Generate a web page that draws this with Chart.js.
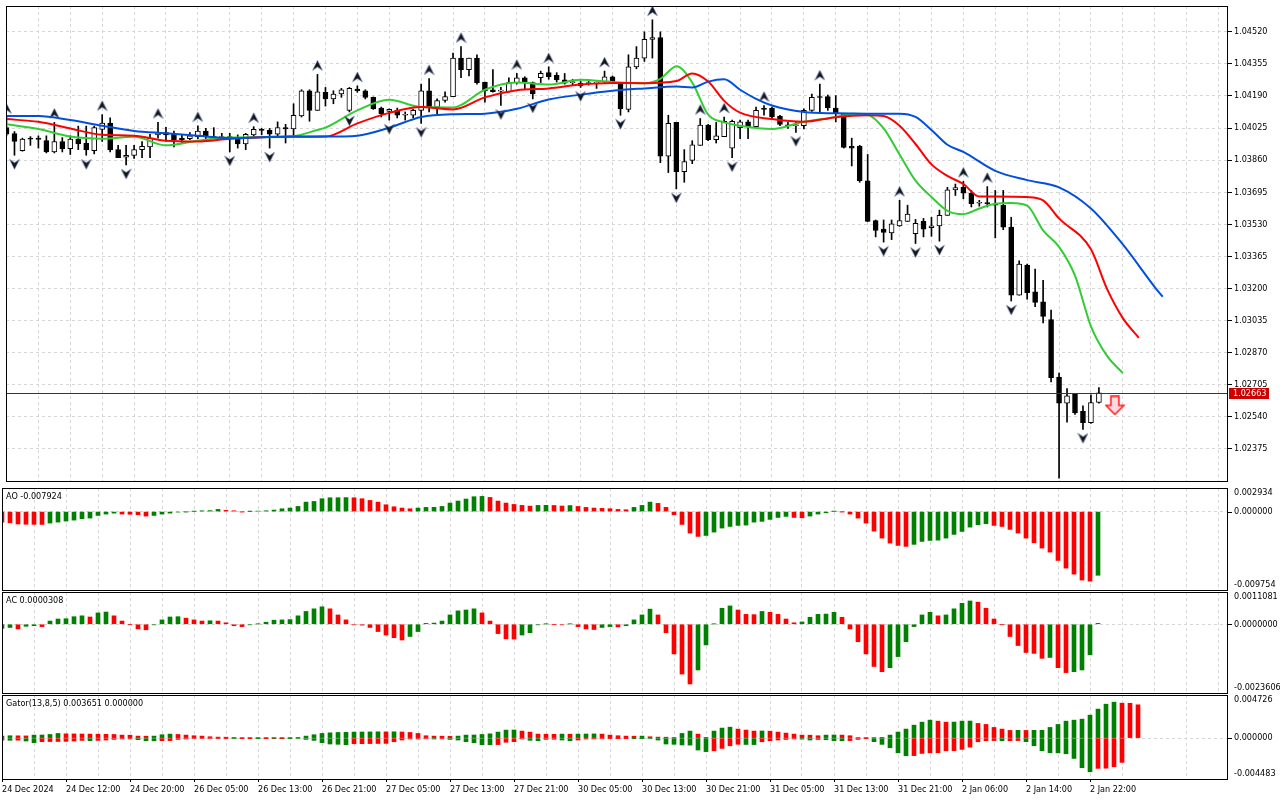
<!DOCTYPE html>
<html>
<head>
<meta charset="utf-8">
<script src="https://cdn.jsdelivr.net/npm/chart.js@4.4.1/dist/chart.umd.min.js"></script>
<style>
  html, body { margin: 0; padding: 0; background: #fff; }
  #wrap { position: relative; width: 1280px; height: 800px; overflow: hidden; }
  #wrap canvas { position: absolute; left: 0; }
</style>
</head>
<body>
<div id="wrap">
  <canvas id="main" width="1280" height="487" style="top:0"></canvas>
  <canvas id="ao" width="1280" height="104" style="top:487px"></canvas>
  <canvas id="ac" width="1280" height="103" style="top:591px"></canvas>
  <canvas id="gator" width="1280" height="106" style="top:694px"></canvas>
</div>
<script>
// EURUSD H1, 24 Dec 2024 - 2 Jan 2025
const timeLabels = ['24 Dec 2024', '24 Dec 12:00', '24 Dec 20:00', '26 Dec 05:00', '26 Dec 13:00', '26 Dec 21:00',
  '27 Dec 05:00', '27 Dec 13:00', '27 Dec 21:00', '30 Dec 05:00', '30 Dec 13:00', '30 Dec 21:00',
  '31 Dec 05:00', '31 Dec 13:00', '31 Dec 21:00', '2 Jan 06:00', '2 Jan 14:00', '2 Jan 22:00'];

const opens = [
  1.04027, 1.03997, 1.03909, 1.03973, 1.03973, 1.03960, 1.03902, 1.03956, 1.03919, 1.03968,
  1.03946, 1.03909, 1.04018, 1.04050, 1.03914, 1.03875, 1.03884, 1.03914, 1.03928, 1.03990,
  1.04002, 1.03993, 1.03973, 1.03970, 1.03981, 1.04010, 1.03981, 1.03976, 1.03977, 1.03968,
  1.03944, 1.03990, 1.04018, 1.04013, 1.03993, 1.04027, 1.04020, 1.04087, 1.04217, 1.04116,
  1.04209, 1.04175, 1.04200, 1.04116, 1.04225, 1.04217, 1.04183, 1.04128, 1.04111, 1.04116,
  1.04091, 1.04091, 1.04116, 1.04217, 1.04133, 1.04167, 1.04187, 1.04385, 1.04326, 1.04385,
  1.04262, 1.04222, 1.04215, 1.04212, 1.04259, 1.04284, 1.04259, 1.04284, 1.04310, 1.04296,
  1.04273, 1.04259, 1.04256, 1.04254, 1.04256, 1.04262, 1.04289, 1.04256, 1.04121, 1.04340,
  1.04385, 1.04481, 1.04491, 1.03880, 1.04054, 1.03801, 1.03859, 1.03936, 1.04040, 1.03965,
  1.03981, 1.03922, 1.04027, 1.04057, 1.04032, 1.04121, 1.04128, 1.04087, 1.04040, 1.04037,
  1.04037, 1.04116, 1.04183, 1.04187, 1.04128, 1.04099, 1.03931, 1.03931, 1.03754, 1.03549,
  1.03505, 1.03485, 1.03522, 1.03544, 1.03481, 1.03545, 1.03512, 1.03522, 1.03576, 1.03707,
  1.03720, 1.03690, 1.03638, 1.03640, 1.03630, 1.03628, 1.03515, 1.03165, 1.03320, 1.03182,
  1.03131, 1.03039, 1.02744, 1.02610, 1.02655, 1.02568, 1.02509, 1.02613];
const highs = [
  1.04080, 1.04007, 1.03973, 1.03981, 1.03985, 1.03985, 1.04054, 1.03976, 1.03985, 1.04035,
  1.04035, 1.04035, 1.04094, 1.04077, 1.03936, 1.03936, 1.03936, 1.03956, 1.03993, 1.04054,
  1.04029, 1.04010, 1.03993, 1.04002, 1.04037, 1.04023, 1.04027, 1.03998, 1.03998, 1.03990,
  1.03998, 1.04032, 1.04023, 1.04023, 1.04057, 1.04044, 1.04150, 1.04222, 1.04222, 1.04301,
  1.04234, 1.04217, 1.04229, 1.04234, 1.04242, 1.04222, 1.04185, 1.04133, 1.04124, 1.04128,
  1.04108, 1.04121, 1.04251, 1.04279, 1.04175, 1.04212, 1.04411, 1.04444, 1.04385, 1.04402,
  1.04262, 1.04326, 1.04234, 1.04284, 1.04306, 1.04289, 1.04262, 1.04318, 1.04340, 1.04310,
  1.04306, 1.04276, 1.04267, 1.04267, 1.04262, 1.04318, 1.04293, 1.04256, 1.04402, 1.04444,
  1.04520, 1.04582, 1.04520, 1.04091, 1.04054, 1.03914, 1.03960, 1.04074, 1.04044, 1.04054,
  1.04082, 1.04066, 1.04066, 1.04066, 1.04133, 1.04141, 1.04133, 1.04091, 1.04054, 1.04057,
  1.04124, 1.04200, 1.04251, 1.04195, 1.04192, 1.04099, 1.03973, 1.03936, 1.03889, 1.03552,
  1.03552, 1.03552, 1.03653, 1.03628, 1.03555, 1.03560, 1.03566, 1.03603, 1.03720, 1.03737,
  1.03751, 1.03704, 1.03653, 1.03724, 1.03704, 1.03704, 1.03566, 1.03342, 1.03325, 1.03300,
  1.03241, 1.03089, 1.02764, 1.02685, 1.02660, 1.02596, 1.02652, 1.02690];
const lows = [
  1.03985, 1.03885, 1.03906, 1.03936, 1.03922, 1.03897, 1.03897, 1.03902, 1.03889, 1.03914,
  1.03885, 1.03892, 1.03956, 1.03902, 1.03872, 1.03835, 1.03869, 1.03872, 1.03872, 1.03973,
  1.03956, 1.03928, 1.03948, 1.03965, 1.03970, 1.03970, 1.03970, 1.03973, 1.03902, 1.03922,
  1.03914, 1.03981, 1.03990, 1.03922, 1.03981, 1.03948, 1.03985, 1.04082, 1.04060, 1.04116,
  1.04138, 1.04150, 1.04183, 1.04108, 1.04209, 1.04175, 1.04121, 1.04082, 1.04066, 1.04077,
  1.04066, 1.04077, 1.04049, 1.04108, 1.04099, 1.04158, 1.04187, 1.04284, 1.04293, 1.04251,
  1.04158, 1.04209, 1.04141, 1.04209, 1.04251, 1.04222, 1.04175, 1.04259, 1.04276, 1.04262,
  1.04251, 1.04246, 1.04234, 1.04246, 1.04229, 1.04259, 1.04259, 1.04091, 1.04108, 1.04330,
  1.04368, 1.04385, 1.03847, 1.03796, 1.03712, 1.03746, 1.03842, 1.03936, 1.03960, 1.03948,
  1.03981, 1.03872, 1.03970, 1.03970, 1.04027, 1.04091, 1.04074, 1.04037, 1.04023, 1.04003,
  1.04020, 1.04111, 1.04108, 1.04116, 1.04057, 1.03922, 1.03830, 1.03746, 1.03544, 1.03465,
  1.03438, 1.03451, 1.03519, 1.03544, 1.03431, 1.03465, 1.03468, 1.03443, 1.03576, 1.03678,
  1.03661, 1.03619, 1.03623, 1.03619, 1.03460, 1.03502, 1.03135, 1.03165, 1.03145, 1.03106,
  1.03022, 1.02719, 1.02224, 1.02512, 1.02551, 1.02475, 1.02505, 1.02610];
const closes = [
  1.03993, 1.03956, 1.03968, 1.03968, 1.03966, 1.03902, 1.03956, 1.03919, 1.03968, 1.03943,
  1.03912, 1.04027, 1.04050, 1.03912, 1.03872, 1.03885, 1.03914, 1.03931, 1.03973, 1.04002,
  1.03990, 1.03965, 1.03965, 1.03985, 1.04010, 1.03981, 1.03976, 1.03977, 1.03976, 1.03943,
  1.03993, 1.04018, 1.04013, 1.03993, 1.04027, 1.04020, 1.04091, 1.04217, 1.04116, 1.04212,
  1.04175, 1.04200, 1.04222, 1.04229, 1.04217, 1.04183, 1.04124, 1.04099, 1.04121, 1.04091,
  1.04092, 1.04116, 1.04217, 1.04133, 1.04167, 1.04187, 1.04385, 1.04326, 1.04385, 1.04259,
  1.04217, 1.04212, 1.04217, 1.04259, 1.04284, 1.04259, 1.04200, 1.04306, 1.04289, 1.04273,
  1.04256, 1.04260, 1.04242, 1.04256, 1.04257, 1.04289, 1.04262, 1.04124, 1.04340, 1.04385,
  1.04481, 1.04491, 1.03880, 1.04049, 1.03801, 1.03852, 1.03939, 1.04040, 1.03965, 1.03985,
  1.04060, 1.04060, 1.04057, 1.04032, 1.04116, 1.04121, 1.04082, 1.04044, 1.04037, 1.04040,
  1.04116, 1.04183, 1.04182, 1.04128, 1.04099, 1.03926, 1.03922, 1.03754, 1.03544, 1.03498,
  1.03488, 1.03532, 1.03549, 1.03583, 1.03535, 1.03505, 1.03522, 1.03576, 1.03707, 1.03719,
  1.03690, 1.03636, 1.03640, 1.03636, 1.03628, 1.03515, 1.03165, 1.03325, 1.03178, 1.03128,
  1.03056, 1.02741, 1.02610, 1.02647, 1.02559, 1.02509, 1.02613, 1.02663];

// price axis
const priceTicks = [1.04520, 1.04355, 1.04190, 1.04025, 1.03860, 1.03695, 1.03530, 1.03365,
  1.03200, 1.03035, 1.02870, 1.02705, 1.02540, 1.02375];
const priceRange = [1.02209, 1.04653];

// Alligator (shifted forward), read at sample bars
const jawX = [0, 4, 8, 12, 16, 20, 24, 28, 32, 36, 40, 44, 48, 52, 56, 60, 64, 68, 72, 76,
  80, 84, 86, 88, 90, 92, 94, 96, 100, 104, 108, 112, 114, 116, 118, 120, 124, 128, 132, 136, 140, 144, 145];
const jawY = [1.04087, 1.04087, 1.04066, 1.04037, 1.04010, 1.03998, 1.03985, 1.03973, 1.03978, 1.03981,
  1.03981, 1.03986, 1.04027, 1.04082, 1.04096, 1.04099, 1.04124, 1.04172, 1.04197, 1.04217,
  1.04229, 1.04239, 1.04234, 1.04264, 1.04276, 1.04222, 1.04175, 1.04141, 1.04108, 1.04101,
  1.04099, 1.04099, 1.04082, 1.04015, 1.03939, 1.03902, 1.03805, 1.03757, 1.03720, 1.03611,
  1.03426, 1.03207, 1.03157];
const teethX = [0, 4, 8, 12, 16, 20, 24, 28, 32, 36, 40, 44, 48, 52, 56, 60, 64, 68, 72, 76,
  80, 84, 86, 88, 90, 92, 96, 100, 104, 108, 110, 112, 114, 116, 118, 120, 122, 124, 128, 130,
  132, 136, 138, 140, 142];
const teethY = [1.04071, 1.04057, 1.04023, 1.03990, 1.03986, 1.03960, 1.03956, 1.03970, 1.03978, 1.03980,
  1.03981, 1.04049, 1.04103, 1.04133, 1.04121, 1.04183, 1.04219, 1.04229, 1.04249, 1.04257,
  1.04256, 1.04267, 1.04306, 1.04264, 1.04165, 1.04104, 1.04071, 1.04057, 1.04081, 1.04091,
  1.04087, 1.04037, 1.03943, 1.03838, 1.03779, 1.03737, 1.03673, 1.03673, 1.03670, 1.03653,
  1.03560, 1.03401, 1.03199, 1.03047, 1.02946];
const lipsX = [0, 4, 8, 12, 16, 20, 24, 28, 32, 36, 39, 40, 44, 48, 52, 56, 60, 64, 68, 72,
  76, 80, 82, 83, 84, 86, 88, 90, 92, 96, 100, 104, 106, 108, 110, 112, 114, 116, 118, 120,
  122, 124, 126, 128, 130, 132, 134, 136, 138, 140];
const lipsY = [1.04044, 1.04020, 1.03981, 1.03970, 1.03980, 1.03936, 1.03960, 1.03976, 1.03978, 1.03983,
  1.04015, 1.04027, 1.04116, 1.04170, 1.04133, 1.04131, 1.04222, 1.04259, 1.04249, 1.04273,
  1.04262, 1.04256, 1.04278, 1.04315, 1.04343, 1.04259, 1.04094, 1.04054, 1.04037, 1.04020,
  1.04057, 1.04082, 1.04099, 1.04094, 1.04023, 1.03889, 1.03754, 1.03670, 1.03599, 1.03582,
  1.03611, 1.03636, 1.03640, 1.03626, 1.03498, 1.03414, 1.03266, 1.03005, 1.02854, 1.02764];

// Fractals (bar numbers) and the sell signal
const fractalUp = [0, 6, 12, 19, 24, 31, 39, 44, 53, 57, 64, 68, 75, 81, 87, 90, 95, 102, 112, 120, 123];
const fractalDown = [1, 10, 15, 28, 33, 43, 48, 52, 62, 66, 72, 77, 84, 91, 99, 110, 114, 117, 126, 132, 135];
const sellBar = 139;
const sellPrice = 1.02598;

// Awesome Oscillator
const aoValues = [
  -0.00131, -0.00139, -0.00154, -0.00158, -0.00159, -0.00160, -0.00143, -0.00131, -0.00118, -0.00106,
  -0.00089, -0.00081, -0.00048, -0.00031, -0.00019, -0.00031, -0.00033, -0.00039, -0.00056, -0.00048,
  -0.00031, -0.00019, -0.00006, -0.00002, 0.00002, 0.00010, 0.00012, 0.00027, 0.00015, 0.00010,
  -0.00002, 0.00001, 0.00006, 0.00010, 0.00019, 0.00035, 0.00044, 0.00064, 0.00118, 0.00126,
  0.00160, 0.00172, 0.00173, 0.00174, 0.00172, 0.00160, 0.00139, 0.00118, 0.00085, 0.00060,
  0.00044, 0.00035, 0.00044, 0.00052, 0.00053, 0.00064, 0.00106, 0.00131, 0.00156, 0.00185,
  0.00189, 0.00176, 0.00131, 0.00106, 0.00089, 0.00077, 0.00068, 0.00077, 0.00078, 0.00076,
  0.00069, 0.00075, 0.00064, 0.00052, 0.00044, 0.00040, 0.00036, 0.00027, 0.00023, 0.00052,
  0.00077, 0.00118, 0.00102, 0.00052, -0.00039, -0.00160, -0.00267, -0.00309, -0.00297, -0.00255,
  -0.00205, -0.00185, -0.00172, -0.00168, -0.00131, -0.00122, -0.00097, -0.00073, -0.00060, -0.00073,
  -0.00077, -0.00056, -0.00031, -0.00015, 0.00002, -0.00001, -0.00031, -0.00081, -0.00143, -0.00243,
  -0.00330, -0.00392, -0.00421, -0.00433, -0.00408, -0.00371, -0.00359, -0.00355, -0.00330, -0.00284,
  -0.00247, -0.00193, -0.00164, -0.00151, -0.00172, -0.00185, -0.00222, -0.00267, -0.00330, -0.00388,
  -0.00454, -0.00504, -0.00608, -0.00703, -0.00778, -0.00852, -0.00865, -0.007924];
const aoColors = 'RRRRRRGGGG' + 'GGGGGRRRRG' + 'GGGGGGGGRR' + 'RGGGGGGGGG' + 'GGGGRRRRRR' +
  'RRGGGGGGGG' + 'GRRRRRRGGR' + 'RGRRRRRRRG' + 'GGRRRRRRGG' + 'GGGGGGGGGR' +
  'RGGGGRRRRR' + 'RRRRGGGGGG' + 'GGGGRRRRRR' + 'RRRRRRRG';
const aoAxis = [0.002934, 0, -0.009754];

// Accelerator Oscillator
const acValues = [
  -0.00014, -0.00011, -0.00016, -0.00007, -0.00005, -0.00008, 0.00011, 0.00018, 0.00019, 0.00026,
  0.00029, 0.00025, 0.00039, 0.00042, 0.00029, 0.00011, -0.00001, -0.00016, -0.00019, -0.00002,
  0.00015, 0.00025, 0.00026, 0.00021, 0.00015, 0.00011, 0.00012, 0.00011, 0.00005, -0.00005,
  -0.00008, -0.00002, 0.00001, 0.00007, 0.00014, 0.00015, 0.00016, 0.00029, 0.00044, 0.00053,
  0.00060, 0.00053, 0.00032, 0.00015, -0.00002, -0.00003, -0.00011, -0.00025, -0.00037, -0.00046,
  -0.00054, -0.00042, -0.00025, 0.00003, 0.00004, 0.00011, 0.00032, 0.00046, 0.00049, 0.00053,
  0.00039, 0.00011, -0.00032, -0.00050, -0.00051, -0.00037, -0.00029, -0.00002, 0.00001, -0.00001,
  -0.00002, 0.00001, -0.00008, -0.00016, -0.00018, -0.00011, -0.00008, -0.00009, -0.00005, 0.00015,
  0.00032, 0.00052, 0.00032, -0.00029, -0.00102, -0.00171, -0.00205, -0.00157, -0.00071, 0.00001,
  0.00055, 0.00063, 0.00049, 0.00034, 0.00033, 0.00044, 0.00041, 0.00034, 0.00018, 0.00005,
  0.00008, 0.00024, 0.00034, 0.00035, 0.00041, 0.00024, -0.00016, -0.00060, -0.00102, -0.00145,
  -0.00163, -0.00149, -0.00111, -0.00060, -0.00008, 0.00032, 0.00041, 0.00029, 0.00032, 0.00053,
  0.00072, 0.00080, 0.00076, 0.00055, 0.00018, -0.00001, -0.00042, -0.00073, -0.00097, -0.00100,
  -0.00117, -0.00114, -0.00149, -0.00166, -0.00163, -0.00157, -0.00105, 0.0000308];
const acColors = 'GGRGGRGGGG' + 'GRGGRRRRRG' + 'GGGRRRGRRR' + 'RGGGGGGGGG' + 'GRRRRRRRRR' +
  'RGGGGGGGGG' + 'RRRRRGGGGR' + 'RGRRRGGRGG' + 'GGRRRRRGGG' + 'GGRRRGRRRR' +
  'GGGGGRRRRR' + 'RGGGGGGRGG' + 'GGRRRRRRRR' + 'RGRRGGGG';
const acAxis = [0.0011081, 0, -0.0023606];

// Gator Oscillator (upper = |jaw - teeth|, lower = -|teeth - lips|)
const gatorUpper = [
  0.00022, 0.00026, 0.00025, 0.00024, 0.00033, 0.00034, 0.00040, 0.00051, 0.00047, 0.00046,
  0.00045, 0.00044, 0.00043, 0.00042, 0.00040, 0.00033, 0.00032, 0.00022, 0.00021, 0.00022,
  0.00037, 0.00044, 0.00040, 0.00033, 0.00026, 0.00022, 0.00015, 0.00011, 0.00010, 0.00007,
  0.00004, 0.00003, 0.00004, 0.00002, 0.00001, 0.00003, 0.00004, 0.00007, 0.00022, 0.00037,
  0.00051, 0.00058, 0.00062, 0.00063, 0.00066, 0.00067, 0.00068, 0.00069, 0.00068, 0.00069,
  0.00067, 0.00062, 0.00051, 0.00026, 0.00022, 0.00021, 0.00020, 0.00022, 0.00033, 0.00034,
  0.00040, 0.00047, 0.00066, 0.00088, 0.00089, 0.00077, 0.00066, 0.00044, 0.00043, 0.00042,
  0.00044, 0.00043, 0.00044, 0.00045, 0.00046, 0.00044, 0.00033, 0.00026, 0.00022, 0.00021,
  0.00022, 0.00015, 0.00011, 0.00010, 0.00007, 0.00051, 0.00077, 0.00044, 0.00008, 0.00077,
  0.00110, 0.00120, 0.00099, 0.00088, 0.00077, 0.00078, 0.00076, 0.00066, 0.00055, 0.00044,
  0.00033, 0.00032, 0.00026, 0.00033, 0.00034, 0.00033, 0.00026, 0.00004, 0.00003, 0.00005,
  0.00008, 0.00033, 0.00066, 0.00099, 0.00142, 0.00175, 0.00197, 0.00186, 0.00175, 0.00176,
  0.00186, 0.00187, 0.00161, 0.00150, 0.00117, 0.00099, 0.00084, 0.00085, 0.00084, 0.00085,
  0.00086, 0.00117, 0.00150, 0.00186, 0.00197, 0.00208, 0.00252, 0.00318, 0.00372, 0.00394,
  0.00383, 0.00382, 0.003651];
const gatorUpperColors = 'GGRRGGGGRR' + 'RRRRRRRRRG' + 'GGRRRRRRRR' + 'RRGRRGGGGG' + 'GGGGGGGGRG' +
  'RRRRRRRGGG' + 'GGGGGRRRRR' + 'GRGGGRRRRR' + 'GRRRRGGRRG' + 'GGRRRGRRRR' +
  'RRRGGRRRRG' + 'GGGGGGGRRG' + 'GGRRRRRGRG' + 'GGGGGGGGGG' + 'RRR';
const gatorLower = [
  -0.00022, -0.00024, -0.00023, -0.00032, -0.00050, -0.00039, -0.00038, -0.00037, -0.00036, -0.00032,
  -0.00025, -0.00028, -0.00025, -0.00021, -0.00014, -0.00010, -0.00009, -0.00017, -0.00028, -0.00029,
  -0.00028, -0.00027, -0.00014, -0.00010, -0.00006, -0.00005, -0.00005, -0.00004, -0.00003, -0.00004,
  -0.00003, -0.00002, -0.00003, -0.00002, -0.00003, -0.00002, -0.00003, -0.00006, -0.00014, -0.00025,
  -0.00050, -0.00065, -0.00068, -0.00072, -0.00062, -0.00061, -0.00060, -0.00059, -0.00058, -0.00040,
  -0.00021, -0.00010, -0.00010, -0.00008, -0.00010, -0.00009, -0.00014, -0.00021, -0.00039, -0.00051,
  -0.00072, -0.00073, -0.00071, -0.00046, -0.00039, -0.00010, -0.00024, -0.00028, -0.00014, -0.00013,
  -0.00021, -0.00028, -0.00021, -0.00010, -0.00009, -0.00008, -0.00003, -0.00002, -0.00001, -0.00002,
  -0.00003, -0.00006, -0.00021, -0.00065, -0.00068, -0.00075, -0.00077, -0.00131, -0.00148, -0.00139,
  -0.00113, -0.00084, -0.00068, -0.00070, -0.00071, -0.00040, -0.00028, -0.00021, -0.00015, -0.00010,
  -0.00011, -0.00021, -0.00015, -0.00018, -0.00028, -0.00029, -0.00027, -0.00014, -0.00003, -0.00039,
  -0.00069, -0.00106, -0.00161, -0.00193, -0.00192, -0.00168, -0.00161, -0.00160, -0.00139, -0.00138,
  -0.00124, -0.00099, -0.00040, -0.00028, -0.00027, -0.00029, -0.00028, -0.00027, -0.00039, -0.00084,
  -0.00139, -0.00161, -0.00162, -0.00172, -0.00223, -0.00325, -0.00369, -0.00332, -0.00330, -0.00314,
  -0.00266];
const gatorLowerColors = 'RGRGGRRRRR' + 'RGRRRRRGGG' + 'RRRRRRRRRG' + 'RRGRGRGGGG' + 'GGGGRRRRRR' +
  'RRRRGRGGGG' + 'GGRRRRGGRR' + 'GGRRRRRRRG' + 'GGGGGGGGGR' + 'RRRGGRRRRR' +
  'GGRGGGRRRG' + 'GGGGRRRRRR' + 'RRRRRGRRGG' + 'GGGGGGGRRR' + 'R';
const gatorAxis = [0.004726, 0, -0.004483];

// ---- look ----
const GREEN = '#008000';
const RED = '#ff0000';
const GRID = '#d6d6d6';
const FONT_FAMILY = "'DejaVu Sans Condensed', 'DejaVu Sans', sans-serif";
const FONT = { family: FONT_FAMILY, size: 9 };
const FONT_CSS = '9px ' + FONT_FAMILY;
const SPAN = 153.125;          // bars visible across the plot width
const Y_AXIS_W = 53;

Chart.defaults.font.family = FONT_FAMILY;
Chart.defaults.font.size = 9;
Chart.defaults.color = '#000';

const paint = s => [...s].map(c => (c === 'G' ? GREEN : RED));
const barIdx = opens.map((_, i) => i);

function xAxis(min, withLabels) {
  return {
    type: 'linear', min: min, max: min + SPAN, offset: false,
    afterBuildTicks: s => {
      s.ticks = [];
      for (let v = 0; v <= 152; v += 4) s.ticks.push({ value: v });
    },
    border: { display: false, dash: [3, 3] },
    grid: {
      offset: false, color: GRID, drawTicks: withLabels, tickLength: 3,
      tickColor: c => (c.tick && c.tick.value % 8 === 0 ? '#000' : 'rgba(0,0,0,0)')
    },
    ticks: withLabels ? {
      display: true, autoSkip: false, maxRotation: 0, minRotation: 0, align: 'start',
      padding: 2, font: FONT, color: '#000',
      callback: v => (v % 8 === 0 ? timeLabels[v / 8] : '')
    } : { display: false },
    afterFit: s => { s.height = withLabels ? 21 : 0; s.paddingLeft = 0; s.paddingRight = 0; }
  };
}

// black frame around each plot area
const framePlugin = {
  id: 'frame',
  afterDraw(chart) {
    const { ctx, chartArea: a } = chart;
    ctx.save();
    ctx.strokeStyle = '#000';
    ctx.lineWidth = 1;
    ctx.strokeRect(Math.round(a.left) + 0.5, Math.round(a.top) + 0.5,
      Math.round(a.right - a.left), Math.round(a.bottom - a.top));
    ctx.restore();
  }
};

// bid line + red price tag
const bidPlugin = {
  id: 'bid',
  afterDatasetsDraw(chart) {
    const { ctx, chartArea: a, scales: { y } } = chart;
    const last = closes[closes.length - 1];
    const py = Math.round(y.getPixelForValue(last)) + 0.5;
    ctx.save();
    ctx.strokeStyle = '#b80000';
    ctx.lineWidth = 1;
    ctx.beginPath();
    ctx.moveTo(a.left, py);
    ctx.lineTo(a.right, py);
    ctx.stroke();
    ctx.restore();
  },
  afterDraw(chart) {
    const { ctx, chartArea: a, scales: { y } } = chart;
    const last = closes[closes.length - 1];
    const py = Math.round(y.getPixelForValue(last));
    ctx.save();
    ctx.fillStyle = '#cc0000';
    ctx.fillRect(a.right + 2, py - 5, 40, 11);
    ctx.fillStyle = '#fff';
    ctx.font = FONT_CSS;
    ctx.textBaseline = 'middle';
    ctx.fillText(last.toFixed(5), a.right + 6, py + 0.5);
    ctx.restore();
  }
};

// indicator title and right-hand scale values
const sidePlugin = {
  id: 'side',
  afterDraw(chart, args, opts) {
    const { ctx, chartArea: a, scales: { y } } = chart;
    ctx.save();
    ctx.font = FONT_CSS;
    ctx.fillStyle = '#000';
    ctx.textBaseline = 'middle';
    ctx.textAlign = 'left';
    ctx.fillText(opts.title, a.left + 4, a.top + 9);
    opts.values.forEach(v => {
      const py = Math.min(Math.max(y.getPixelForValue(v), a.top + 5), a.bottom - 5);
      ctx.fillText(v.toFixed(opts.digits), a.right + 7, py);
    });
    const z = Math.round(y.getPixelForValue(0)) + 0.5;
    ctx.strokeStyle = '#000';
    ctx.beginPath();
    ctx.moveTo(a.right, z);
    ctx.lineTo(a.right + 5, z);
    ctx.stroke();
    ctx.restore();
  }
};

function fractalIcon(up) {
  const c = document.createElement('canvas');
  c.width = 11;
  c.height = 40;
  const g = c.getContext('2d');
  if (!up) { g.translate(0, 40); g.scale(1, -1); }
  g.beginPath();
  g.moveTo(5.5, 6);
  g.lineTo(10.5, 16);
  g.lineTo(5.5, 12.5);
  g.lineTo(0.5, 16);
  g.closePath();
  g.fillStyle = '#141414';
  g.fill();
  g.strokeStyle = 'rgba(90,120,200,0.55)';
  g.lineWidth = 0.8;
  g.stroke();
  return c;
}

function sellIcon() {
  const c = document.createElement('canvas');
  c.width = 20;
  c.height = 20;
  const g = c.getContext('2d');
  g.beginPath();
  g.moveTo(6, 1); g.lineTo(14, 1); g.lineTo(14, 10); g.lineTo(19, 10);
  g.lineTo(10, 19); g.lineTo(1, 10); g.lineTo(6, 10); g.closePath();
  g.fillStyle = '#ffd8e0';
  g.fill();
  g.strokeStyle = '#ff1a1a';
  g.lineWidth = 1.5;
  g.stroke();
  return c;
}

function lineSet(xs, ys, color) {
  return {
    type: 'line', data: xs.map((x, k) => ({ x: x, y: ys[k] })),
    borderColor: color, borderWidth: 2, pointRadius: 0,
    cubicInterpolationMode: 'monotone', order: 3
  };
}

const baseOptions = {
  responsive: false, animation: false, devicePixelRatio: 1, events: [],
  plugins: { legend: { display: false }, tooltip: { enabled: false } }
};

// ---- main price chart ----
new Chart(document.getElementById('main'), {
  type: 'bar',
  data: {
    datasets: [
      {
        data: barIdx.map(i => ({ x: i, y: [lows[i], highs[i]] })),
        backgroundColor: '#000', barThickness: 1, grouped: false, order: 6
      },
      {
        data: barIdx.map(i => ({ x: i, y: [opens[i], closes[i]] })),
        backgroundColor: barIdx.map(i => (closes[i] > opens[i] ? '#fff' : '#000')),
        borderColor: '#000', borderWidth: 1, borderSkipped: false,
        barThickness: 5, minBarLength: 1, grouped: false, order: 5
      },
      lineSet(jawX, jawY, '#0050e0'),
      lineSet(teethX, teethY, '#ff0000'),
      lineSet(lipsX, lipsY, '#32cd32'),
      {
        type: 'line', showLine: false, order: 1,
        data: fractalUp.map(i => ({ x: i, y: highs[i] })),
        pointStyle: fractalIcon(true), pointRadius: 5
      },
      {
        type: 'line', showLine: false, order: 1,
        data: fractalDown.map(i => ({ x: i, y: lows[i] })),
        pointStyle: fractalIcon(false), pointRadius: 5
      },
      {
        type: 'line', showLine: false, order: 0,
        data: [{ x: sellBar, y: sellPrice }],
        pointStyle: sellIcon(), pointRadius: 5
      }
    ]
  },
  options: Object.assign({}, baseOptions, {
    layout: { padding: { left: 2, top: 2, right: 0, bottom: 1 } },
    scales: {
      x: xAxis(-0.0625, false),
      y: {
        position: 'right', min: priceRange[0], max: priceRange[1],
        afterBuildTicks: s => { s.ticks = priceTicks.map(v => ({ value: v })); },
        border: { display: false, dash: [3, 3] },
        grid: { color: GRID, tickColor: '#000', tickLength: 5 },
        ticks: { font: FONT, color: '#000', padding: 2, callback: v => v.toFixed(5) },
        afterFit: s => { s.width = Y_AXIS_W; s.paddingTop = 0; s.paddingBottom = 0; }
      }
    }
  }),
  plugins: [bidPlugin, framePlugin]
});

// ---- indicator panes ----
function pane(id, datasets, axis, title, digits, withLabels, padBottom) {
  new Chart(document.getElementById(id), {
    type: 'bar',
    data: { datasets: datasets },
    options: Object.assign({}, baseOptions, {
      layout: { padding: { left: 2, top: 1, right: 0, bottom: padBottom } },
      plugins: {
        legend: { display: false }, tooltip: { enabled: false },
        side: { title: title, values: axis, digits: digits }
      },
      scales: {
        x: xAxis(0, withLabels),
        y: {
          position: 'right', min: axis[2], max: axis[0],
          afterBuildTicks: s => { s.ticks = [{ value: 0 }]; },
          border: { display: false, dash: [3, 3] },
          grid: { color: GRID, drawTicks: false },
          ticks: { display: false },
          afterFit: s => { s.width = Y_AXIS_W; s.paddingTop = 0; s.paddingBottom = 0; }
        }
      }
    }),
    plugins: [sidePlugin, framePlugin]
  });
}

function histo(values, colors) {
  return {
    data: values.map((v, i) => ({ x: i, y: v })),
    backgroundColor: paint(colors), barThickness: 4, grouped: false, borderWidth: 0
  };
}

pane('ao', [histo(aoValues, aoColors)], aoAxis,
  'AO ' + aoValues[aoValues.length - 1].toFixed(6), 6, false, 1);
pane('ac', [histo(acValues, acColors)], acAxis,
  'AC ' + acValues[acValues.length - 1].toFixed(7), 7, false, 1);
pane('gator', [histo(gatorUpper, gatorUpperColors), histo(gatorLower, gatorLowerColors)], gatorAxis,
  'Gator(13,8,5) ' + gatorUpper[gatorUpper.length - 1].toFixed(6) + ' ' + (0).toFixed(6), 6, true, 0);
</script>
</body>
</html>
